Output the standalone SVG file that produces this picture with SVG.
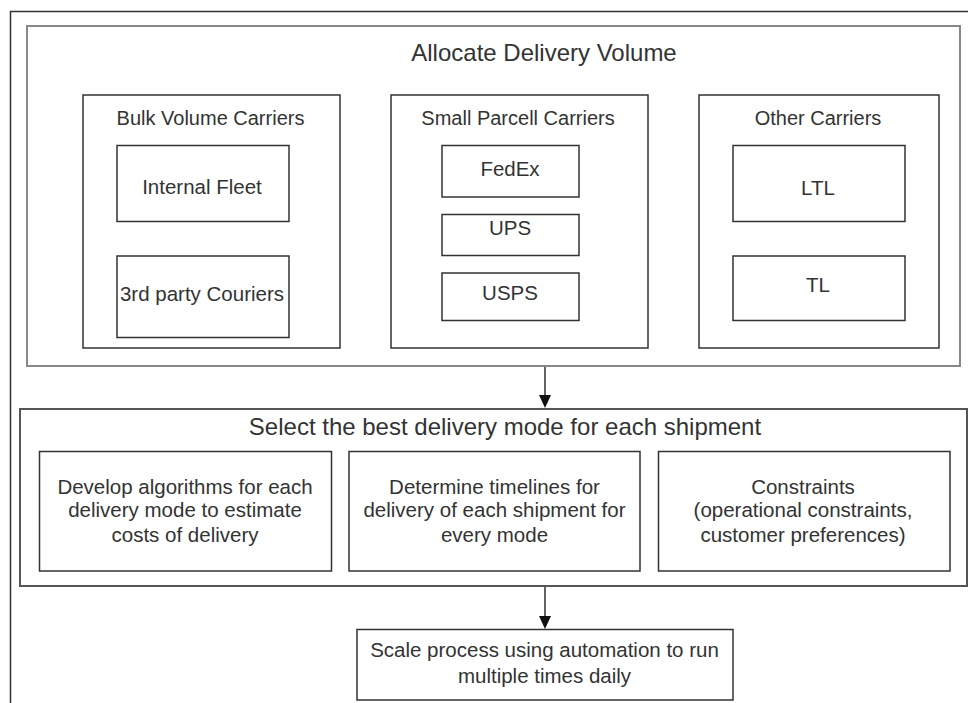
<svg xmlns="http://www.w3.org/2000/svg" width="968" height="703" viewBox="0 0 968 703">
<style>
  .frame{fill:none;stroke:#333;stroke-width:1.5}
  .group{fill:#fff;stroke:#888;stroke-width:2}
  .group2{fill:#fff;stroke:#555;stroke-width:2}
  .box{fill:#fff;stroke:#333;stroke-width:1.5}
  text{font-family:"Liberation Sans",Arial,sans-serif;fill:#333;text-anchor:middle}
  .t1{font-size:24px}
  .t2{font-size:20px}
  .t3{font-size:20.5px}
  .conn{stroke:#222;stroke-width:1.4;fill:none}
  .head{fill:#111}
</style>
<rect width="968" height="703" fill="#fff"/>
<path class="frame" d="M10.5,703 V11.5 H968"/>

<g id="allocate">
  <rect class="group" x="27" y="26" width="933" height="340"/>
  <text class="t1" x="544" y="61">Allocate Delivery Volume</text>
</g>
<g id="bulk">
  <rect class="box" x="83" y="95" width="257" height="253"/>
  <text class="t2" x="210.5" y="125">Bulk Volume Carriers</text>
</g>
<g id="internal-fleet">
  <rect class="box" x="117" y="145.5" width="172" height="76"/>
  <text class="t3" x="202" y="194">Internal Fleet</text>
</g>
<g id="third-party">
  <rect class="box" x="117" y="256" width="172" height="81.5"/>
  <text class="t3" x="202" y="300.5">3rd party Couriers</text>
</g>
<g id="small-parcel">
  <rect class="box" x="391" y="95" width="257" height="253"/>
  <text class="t2" x="518" y="125">Small Parcell Carriers</text>
</g>
<g id="fedex">
  <rect class="box" x="442" y="145.5" width="137" height="51.5"/>
  <text class="t3" x="510" y="176">FedEx</text>
</g>
<g id="ups">
  <rect class="box" x="442" y="214.5" width="137" height="41"/>
  <text class="t3" x="510" y="235">UPS</text>
</g>
<g id="usps">
  <rect class="box" x="442" y="273" width="137" height="47.5"/>
  <text class="t3" x="510" y="299.5">USPS</text>
</g>
<g id="other">
  <rect class="box" x="699" y="95" width="240" height="253"/>
  <text class="t2" x="818" y="125">Other Carriers</text>
</g>
<g id="ltl">
  <rect class="box" x="733" y="145.5" width="172" height="76"/>
  <text class="t3" x="818" y="195">LTL</text>
</g>
<g id="tl">
  <rect class="box" x="733" y="256" width="172" height="64.5"/>
  <text class="t3" x="818" y="291.5">TL</text>
</g>

<g id="select">
  <rect class="group2" x="20" y="409" width="947" height="177"/>
  <text class="t1" x="505" y="435">Select the best delivery mode for each shipment</text>
</g>
<g id="develop">
  <rect class="box" x="39.5" y="451.5" width="292" height="119.5"/>
  <text class="t3" x="185"><tspan x="185" y="493.5">Develop algorithms for each</tspan><tspan x="185" y="517">delivery mode to estimate</tspan><tspan x="185" y="541.5">costs of delivery</tspan></text>
</g>
<g id="determine">
  <rect class="box" x="349" y="451.5" width="291" height="119.5"/>
  <text class="t3" x="494.5"><tspan x="494.5" y="493.5">Determine timelines for</tspan><tspan x="494.5" y="517">delivery of each shipment for</tspan><tspan x="494.5" y="541.5">every mode</tspan></text>
</g>
<g id="constraints">
  <rect class="box" x="658.5" y="451.5" width="291.5" height="119.5"/>
  <text class="t3" x="803"><tspan x="803" y="493.5">Constraints</tspan><tspan x="803" y="517">(operational constraints,</tspan><tspan x="803" y="541.5">customer preferences)</tspan></text>
</g>
<g id="scale">
  <rect class="box" x="357" y="629.5" width="376" height="70.5"/>
  <text class="t3" x="544.5"><tspan x="544.5" y="656.5">Scale process using automation to run</tspan><tspan x="544.5" y="683">multiple times daily</tspan></text>
</g>

<g id="connectors">
  <line class="conn" x1="545" y1="367" x2="545" y2="397"/>
  <polygon class="head" points="539,395 551,395 545,408"/>
  <line class="conn" x1="545" y1="587" x2="545" y2="618"/>
  <polygon class="head" points="539,616 551,616 545,629"/>
</g>
</svg>
